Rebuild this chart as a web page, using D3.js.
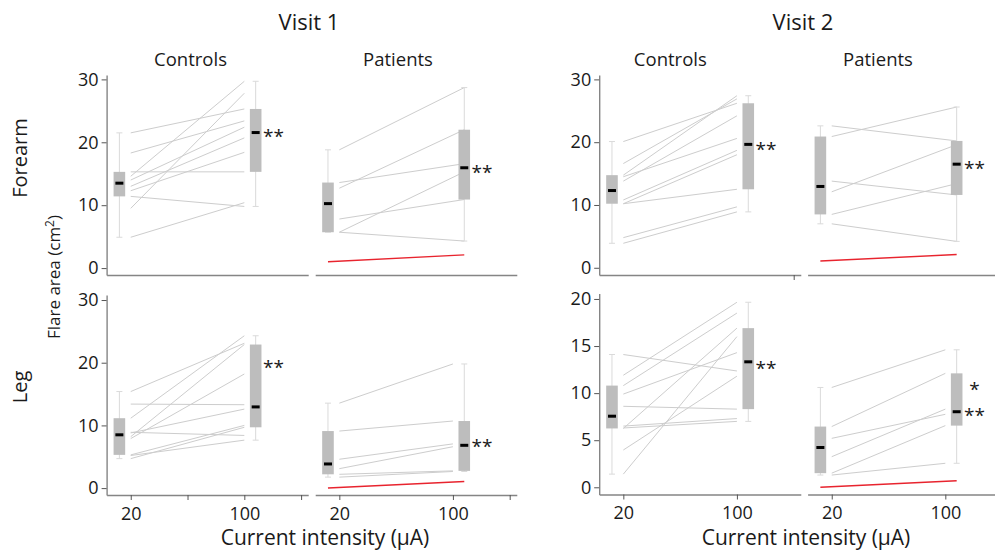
<!DOCTYPE html>
<html><head><meta charset="utf-8">
<script src="https://cdn.jsdelivr.net/npm/d3@7"></script>
<style>
body{margin:0;background:#fff;}
text{font-family:'Open Sans',sans-serif;fill:#1a1a1a;}
</style>
</head><body>
<svg id="c" width="995" height="552"></svg>
<script>
// ---------- DATA ----------
const visits = ["Visit 1", "Visit 2"];
const groups = ["Controls", "Patients"];
const sites = ["Forearm", "Leg"];
const intensities = [20, 100];
const xTickLabels = ["20", "100"];
const yTicks30 = [0, 10, 20, 30];
const yTicks20 = [0, 5, 10, 15, 20];
const yLabel = "Flare area (cm";
const xLabel = "Current intensity (µA)";

// Visit 1, forearm
const v1ForearmCtrl20  = [21.5, 18.3, 15.3, 14.6, 14.0, 13.0, 12.3, 11.4, 9.5, 4.9];
const v1ForearmCtrl100 = [25.3, 23.4, 15.3, 29.7, 22.4, 20.7, 18.4, 9.8, 27.8, 10.4];
const v1ForearmPat20   = [18.8, 12.7, 13.6, 7.8, 5.7, 5.7];
const v1ForearmPat100  = [28.7, 22.0, 16.6, 10.9, 15.3, 4.3];
const v1ForearmRed     = [1.0, 2.1];
// Visit 1, leg
const v1LegCtrl20  = [15.4, 13.4, 11.15, 8.9, 8.8, 8.2, 7.9, 5.3, 5.2, 4.7];
const v1LegCtrl100 = [23.1, 13.3, 24.3, 8.4, 12.6, 22.9, 18.2, 10.0, 7.65, 9.7];
const v1LegPat20   = [13.55, 9.1, 4.6, 3.1, 2.2, 1.75];
const v1LegPat100  = [19.8, 10.7, 7.05, 6.6, 2.75, 2.65];
const v1LegRed     = [0.0, 1.06];
// Visit 2, forearm
const v2ForearmCtrl20  = [20.1, 16.6, 14.75, 14.5, 13.8, 10.8, 10.2, 10.2, 4.8, 3.9];
const v2ForearmCtrl100 = [26.2, 26.9, 27.4, 20.6, 24.2, 18.7, 18.0, 12.5, 9.7, 8.9];
const v2ForearmPat20   = [22.6, 20.9, 13.8, 12.1, 8.5, 7.0];
const v2ForearmPat100  = [20.2, 25.6, 11.6, 19.6, 13.4, 4.2];
const v2ForearmRed     = [1.06, 2.1];
// Visit 2, leg
const v2LegCtrl20  = [14.1, 11.9, 10.8, 9.9, 8.6, 6.5, 6.3, 6.25, 3.96, 1.4];
const v2LegCtrl100 = [12.35, 19.65, 18.5, 14.3, 8.3, 7.3, 7.0, 16.9, 11.8, 16.0];
const v2LegPat20   = [10.6, 6.45, 5.2, 3.25, 1.5, 1.3];
const v2LegPat100  = [14.6, 12.1, 7.75, 8.3, 6.55, 2.55];
const v2LegRed     = [0.0, 0.7];

// significance marks: [label, y value]
const v1ForearmCtrlStars = [["**", 21.6]];
const v1ForearmPatStars  = [["**", 15.9]];
const v1LegCtrlStars     = [["**", 19.8]];
const v1LegPatStars      = [["**", 7.2]];
const v2ForearmCtrlStars = [["**", 19.4]];
const v2ForearmPatStars  = [["**", 16.5]];
const v2LegCtrlStars     = [["**", 13.0]];
const v2LegPatStars      = [["*", 10.8], ["**", 8.0]];

// ---------- LAYOUT ----------
const svg = d3.select("#c");
const X_DOMAIN = [3, 145];
const PANEL_W = 201.6;
const BOX_OFF = 8;          // boxes sit 8 units beside each intensity
const BOX_W = 11.6;
const colLeft = [[106.6, 315.2], [599.2, 807.6]];                 // [visit][group]
const rowRange = [[[275, 75], [495, 295]], [[275, 75], [494.5, 293.5]]]; // [visit][site]
const yDomains = [[[-1.1, 30.7], [-1.1, 30.8]], [[-1.15, 30.7], [-0.765, 20.58]]];
const yTickSets = [[yTicks30, yTicks30], [yTicks30, yTicks20]];

const panels = [
  {v:0, s:0, g:0, pre:v1ForearmCtrl20, post:v1ForearmCtrl100, stars:v1ForearmCtrlStars, xt:[]},
  {v:0, s:0, g:1, pre:v1ForearmPat20,  post:v1ForearmPat100,  stars:v1ForearmPatStars,  red:v1ForearmRed, xt:[]},
  {v:0, s:1, g:0, pre:v1LegCtrl20,     post:v1LegCtrl100,     stars:v1LegCtrlStars,     xt:[20,60,100,140]},
  {v:0, s:1, g:1, pre:v1LegPat20,      post:v1LegPat100,      stars:v1LegPatStars,      red:v1LegRed, xt:[20,100,140]},
  {v:1, s:0, g:0, pre:v2ForearmCtrl20, post:v2ForearmCtrl100, stars:v2ForearmCtrlStars, xt:[140]},
  {v:1, s:0, g:1, pre:v2ForearmPat20,  post:v2ForearmPat100,  stars:v2ForearmPatStars,  red:v2ForearmRed, xt:[]},
  {v:1, s:1, g:0, pre:v2LegCtrl20,     post:v2LegCtrl100,     stars:v2LegCtrlStars,     xt:[20,100]},
  {v:1, s:1, g:1, pre:v2LegPat20,      post:v2LegPat100,      stars:v2LegPatStars,      red:v2LegRed, xt:[20,100]}
];

function fivenum(arr){
  const s = arr.slice().sort(d3.ascending);
  const n = s.length;
  const lo = s.slice(0, Math.ceil(n/2)), hi = s.slice(Math.floor(n/2));
  return {min:s[0], q1:d3.median(lo), med:d3.median(s), q3:d3.median(hi), max:s[n-1]};
}

panels.forEach(p => {
  const left = colLeft[p.v][p.g];
  const x = d3.scaleLinear().domain(X_DOMAIN).range([left, left + PANEL_W]);
  const y = d3.scaleLinear().domain(yDomains[p.v][p.s]).range(rowRange[p.v][p.s]);
  const g = svg.append("g");
  const y0 = rowRange[p.v][p.s][0];

  // x axis
  const xa = d3.axisBottom(x).tickValues(p.xt).tickSize(5).tickSizeOuter(0).tickPadding(7)
    .tickFormat(d => { const i = intensities.indexOf(d); return (p.s === 1 && i >= 0) ? xTickLabels[i] : ""; });
  const xg = g.append("g").attr("transform", `translate(0,${y0})`).call(xa);
  xg.select(".domain").attr("stroke", "#858585").attr("stroke-width", 1.4);
  xg.selectAll(".tick line").attr("stroke", "#555");
  xg.selectAll(".tick text").attr("font-size", 18).attr("fill", "#1a1a1a").attr("font-family", "'Open Sans',sans-serif");

  // y axis (controls only)
  if (p.g === 0) {
    const ya = d3.axisLeft(y).tickValues(yTickSets[p.v][p.s]).tickSize(5).tickSizeOuter(0).tickPadding(3);
    const yg = g.append("g").attr("transform", `translate(${left},0)`).call(ya);
    yg.select(".domain").attr("stroke", "#858585").attr("stroke-width", 1.4);
    yg.selectAll(".tick line").attr("stroke", "#555");
    yg.selectAll(".tick text").attr("font-size", 18).attr("fill", "#1a1a1a").attr("font-family", "'Open Sans',sans-serif");
  }

  // paired lines
  const endX = (p.s === 0 && p.g === 1) ? intensities[1] + BOX_OFF : intensities[1];
  g.append("g").selectAll("line").data(p.pre.map((d, i) => [d, p.post[i]])).join("line")
    .attr("x1", x(intensities[0])).attr("x2", x(endX))
    .attr("y1", d => y(d[0])).attr("y2", d => y(d[1]))
    .attr("stroke", "#cdcdcd").attr("stroke-width", 1);

  // boxes
  [[p.pre, intensities[0] - BOX_OFF], [p.post, intensities[1] + BOX_OFF]].forEach(([vals, xv]) => {
    const f = fivenum(vals);
    const cx = x(xv);
    const bg = g.append("g");
    bg.append("line").attr("x1", cx).attr("x2", cx).attr("y1", y(f.min)).attr("y2", y(f.max))
      .attr("stroke", "#dadada").attr("stroke-width", 1);
    [f.min, f.max].forEach(w => bg.append("line").attr("x1", cx - 3).attr("x2", cx + 3)
      .attr("y1", y(w)).attr("y2", y(w)).attr("stroke", "#dadada").attr("stroke-width", 1));
    bg.append("rect").attr("x", cx - BOX_W/2).attr("width", BOX_W)
      .attr("y", y(f.q3)).attr("height", y(f.q1) - y(f.q3)).attr("fill", "#bdbdbd");
    bg.append("line").attr("x1", cx - 4).attr("x2", cx + 4).attr("y1", y(f.med)).attr("y2", y(f.med))
      .attr("stroke", "#000").attr("stroke-width", 3);
  });

  // red line
  if (p.red) {
    g.append("line").attr("x1", x(intensities[0] - BOX_OFF)).attr("x2", x(intensities[1] + BOX_OFF))
      .attr("y1", y(p.red[0])).attr("y2", y(p.red[1]))
      .attr("stroke", "#e8242e").attr("stroke-width", 1.5);
  }

  // stars
  const sx = x(intensities[1] + BOX_OFF) + BOX_W/2 + 12;
  p.stars.forEach(([t, v]) => {
    g.append("text").attr("x", sx).attr("y", y(v) + 10.5).attr("text-anchor", "middle")
      .attr("font-size", 19).text(t);
  });
});

// ---------- TITLES ----------
const visitX = [309, 803];
visits.forEach((t, i) => svg.append("text").attr("x", visitX[i]).attr("y", 30)
  .attr("text-anchor", "middle").attr("font-size", 22).text(t));
const groupX = [[190.5, 398], [670.3, 878]];
visits.forEach((_, v) => groups.forEach((t, gi) => svg.append("text").attr("x", groupX[v][gi]).attr("y", 66)
  .attr("text-anchor", "middle").attr("font-size", 18.5).text(t)));
const siteY = [158, 387];
sites.forEach((t, i) => svg.append("text").attr("transform", `translate(27,${siteY[i]}) rotate(-90)`)
  .attr("text-anchor", "middle").attr("font-size", 20).text(t));
const yl = svg.append("text").attr("transform", "translate(60,277) rotate(-90)")
  .attr("text-anchor", "middle").attr("font-size", 17);
yl.append("tspan").text(yLabel);
yl.append("tspan").attr("font-size", 12).attr("dy", -6).text("2");
yl.append("tspan").attr("dy", 6).text(")");
const xLabelX = [325, 806];
xLabelX.forEach(cx => svg.append("text").attr("x", cx).attr("y", 545)
  .attr("text-anchor", "middle").attr("font-size", 21).text(xLabel));
</script>
</body></html>
